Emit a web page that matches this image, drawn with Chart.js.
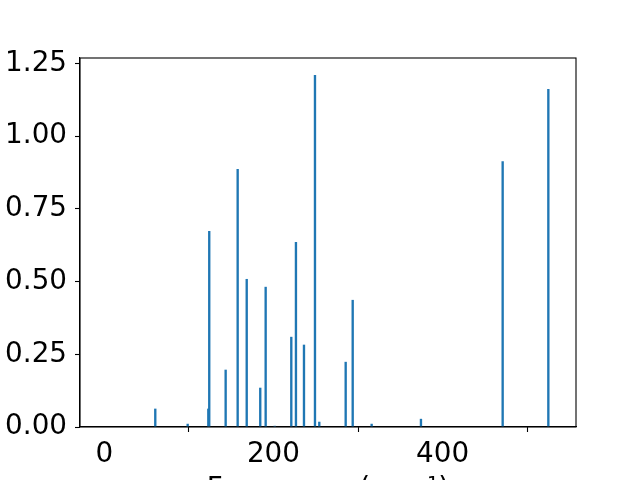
<!DOCTYPE html>
<html>
<head>
<meta charset="utf-8">
<script src="https://cdn.jsdelivr.net/npm/chart.js@4/dist/chart.umd.min.js"></script>
<style>
  html, body { margin: 0; padding: 0; background: #fff; overflow: hidden; }
  #wrap { width: 640px; height: 480px; overflow: hidden; position: relative; }
  canvas { display: block; }
</style>
</head>
<body>
<div id="wrap"><canvas id="c" width="640" height="510"></canvas></div>
<script>
// Frequencies (cm^-1) and intensities
const frequencies = [60.3, 98.6, 123.0, 124.1, 143.5, 157.7, 168.4, 184.4, 190.8, 201.5,
                     221.1, 226.6, 236.1, 249.1, 254.2, 285.4, 293.7, 316.1, 374.4, 471.0, 525.0];
const intensities = [0.062, 0.010, 0.062, 0.673, 0.196, 0.886, 0.508, 0.134, 0.481, 0.003,
                     0.309, 0.635, 0.282, 1.209, 0.017, 0.223, 0.436, 0.010, 0.027, 0.913, 1.161];
const xTicks = [0, 200, 400];
const yTicks = [0.00, 0.25, 0.50, 0.75, 1.00, 1.25];
const xLabel = 'Frequency (cm\u207B\u00B9)';

const FONT = { family: "'DejaVu Sans', sans-serif", size: 27.8 };

const boxPlugin = {
  id: 'box',
  afterDraw(chart) {
    const a = chart.chartArea, ctx = chart.ctx;
    ctx.save();
    ctx.strokeStyle = '#000';
    ctx.lineWidth = 1.1;
    ctx.strokeRect(a.left, a.top, a.right - a.left, a.bottom - a.top);
    ctx.restore();
  }
};

new Chart(document.getElementById('c'), {
  type: 'bar',
  data: {
    datasets: [{
      data: frequencies.map((f, i) => ({ x: f, y: intensities[i] })),
      backgroundColor: '#1f77b4',
      borderWidth: 0,
      barThickness: 1.7
    }]
  },
  options: {
    responsive: false,
    animation: false,
    devicePixelRatio: 1,
    layout: { padding: { top: 58, right: 64, left: 0, bottom: 0 } },
    plugins: { legend: { display: false }, tooltip: { enabled: false } },
    scales: {
      x: {
        type: 'linear',
        offset: false,
        min: -28.7,
        max: 557.7,
        afterBuildTicks(scale) { scale.ticks = xTicks.map(v => ({ value: v })); },
        afterFit(scale) { scale.height = 510 - 427; },
        ticks: { color: '#000', font: FONT, padding: 6, maxRotation: 0, autoSkip: false,
                 callback: v => String(v) },
        grid: { drawOnChartArea: false, drawTicks: true, tickLength: 5, color: '#000', tickWidth: 1.1 },
        border: { display: true, color: '#000', width: 1.1 },
        title: { display: true, text: xLabel, color: '#000', font: FONT, padding: { top: 4, bottom: 4 } }
      },
      y: {
        min: 0,
        max: 1.269,
        afterBuildTicks(scale) { scale.ticks = yTicks.map(v => ({ value: v })); },
        afterFit(scale) { scale.width = 80; },
        ticks: { color: '#000', font: FONT, padding: 8, autoSkip: false,
                 callback: v => Number(v).toFixed(2) },
        grid: { drawOnChartArea: false, drawTicks: true, tickLength: 5, color: '#000', tickWidth: 1.1 },
        border: { display: true, color: '#000', width: 1.1 }
      }
    }
  },
  plugins: [boxPlugin]
});
</script>
</body>
</html>
